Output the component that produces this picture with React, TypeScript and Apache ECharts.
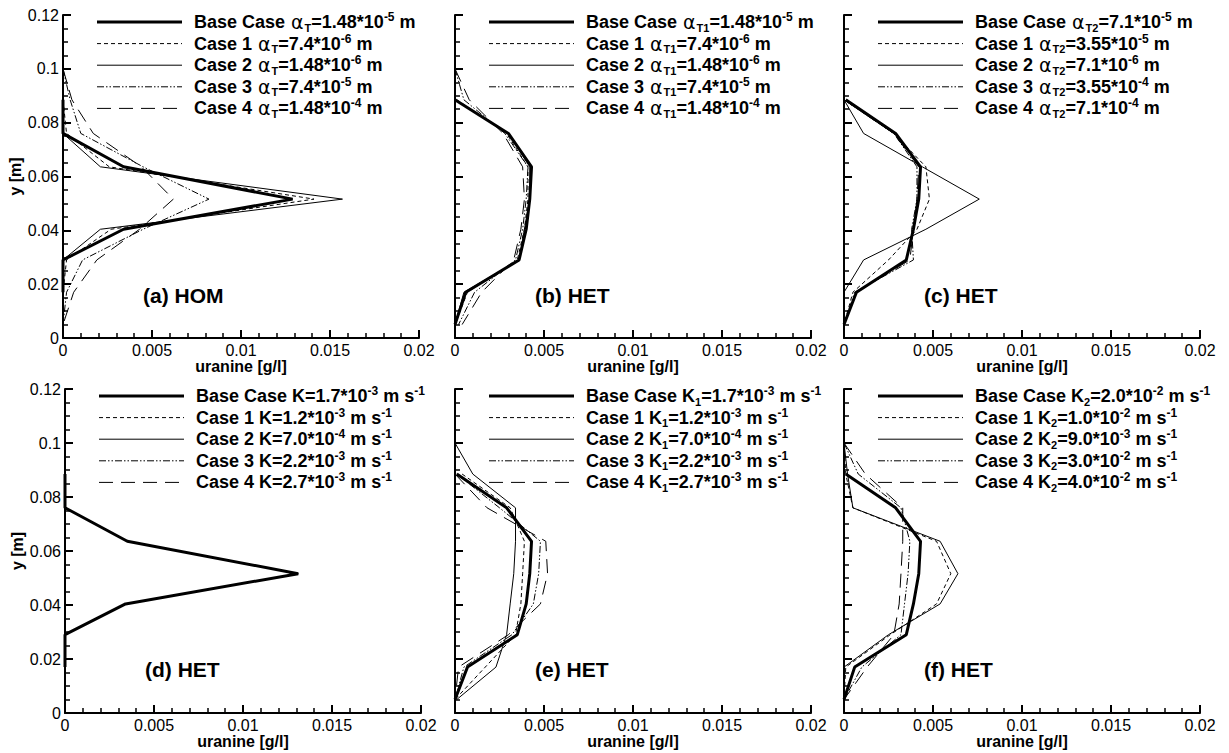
import React, { useEffect, useRef } from "react";
import * as echarts from "echarts";

// y positions (m) of the model nodes
const Y_NODES = [0.1, 0.0885, 0.076, 0.0636, 0.0516, 0.0404, 0.029, 0.017, 0.005];

// uranine concentrations (g/l) per panel; order: Base, Case 1..4
const A_BASE = [null, 0, 0, 0.0034, 0.0129, 0.0034, 0, 0, null];
const A_CASE1 = [null, 0, 0.0002, 0.0026, 0.0141, 0.0027, 0.0002, 0, null];
const A_CASE2 = [null, null, 0, 0.0021, 0.0157, 0.0021, 0, null, null];
const A_CASE3 = [0, 0.0004, 0.001, 0.0045, 0.0082, 0.0045, 0.0011, 0.0002, 0];
const A_CASE4 = [0, 0.0005, 0.0017, 0.0044, 0.0062, 0.0043, 0.0019, 0.0006, 0];

const B_BASE = [null, 0, 0.003, 0.0043, 0.0042, 0.004, 0.0036, 0.0006, 0];
const B_CASE1 = [null, 0.0001, 0.0029, 0.0041, 0.0041, 0.0039, 0.0035, 0.0007, 0];
const B_CASE2 = [null, 0, 0.003, 0.0042, 0.0042, 0.0039, 0.0036, 0.0005, 0];
const B_CASE3 = [0, 0.0005, 0.0028, 0.0041, 0.004, 0.0038, 0.0034, 0.0011, 0.0002];
const B_CASE4 = [0, 0.0008, 0.0027, 0.0038, 0.0039, 0.0037, 0.0033, 0.0015, 0.0004];

const C_BASE = [null, 0.0001, 0.0029, 0.0043, 0.0042, 0.0039, 0.0035, 0.0007, 0];
const C_CASE1 = [null, 0, 0.0028, 0.0046, 0.0048, 0.0041, 0.0025, 0.0005, 0];
const C_CASE2 = [0, 0, 0.0011, 0.0044, 0.0076, 0.0046, 0.0011, 0, 0];
const C_CASE3 = [null, 0, 0.0028, 0.0041, 0.0041, 0.0038, 0.0039, 0.0006, 0];
const C_CASE4 = [null, 0, 0.0028, 0.0042, 0.0041, 0.0039, 0.0037, 0.0007, 0];

const D_BASE = [null, 0, 0, 0.0035, 0.0131, 0.0034, 0, 0, null];
const D_CASE1 = [null, 0, 0, 0.0035, 0.0131, 0.0034, 0, 0, null];
const D_CASE2 = [null, 0, 0, 0.0035, 0.0131, 0.0034, 0, 0, null];
const D_CASE3 = [null, 0, 0, 0.0035, 0.0131, 0.0034, 0, 0, null];
const D_CASE4 = [null, 0, 0, 0.0035, 0.0131, 0.0034, 0, 0, null];

const E_BASE = [null, 0.0001, 0.0029, 0.0043, 0.0042, 0.004, 0.0035, 0.0007, 0];
const E_CASE1 = [null, 0.0004, 0.0031, 0.0039, 0.0038, 0.0037, 0.0034, 0.0017, 0];
const E_CASE2 = [0, 0.001, 0.0034, 0.0034, 0.0033, 0.0031, 0.0029, 0.0023, 0.0001];
const E_CASE3 = [null, 0.0001, 0.0025, 0.0048, 0.0047, 0.0044, 0.0032, 0.0005, 0];
const E_CASE4 = [null, 0, 0.0018, 0.0051, 0.0052, 0.0048, 0.003, 0.0002, 0];

const F_BASE = [null, 0.0001, 0.0029, 0.0043, 0.0042, 0.0039, 0.0035, 0.0006, 0];
const F_CASE1 = [0, 0.0001, 0.0005, 0.0052, 0.006, 0.0052, 0.0026, 0.0001, 0];
const F_CASE2 = [0, 0.0002, 0.0005, 0.0054, 0.0064, 0.0054, 0.0025, 0, 0];
const F_CASE3 = [0, 0.0008, 0.0032, 0.0037, 0.0036, 0.0034, 0.0032, 0.001, 0];
const F_CASE4 = [0, 0.0012, 0.0033, 0.0033, 0.0032, 0.0031, 0.0028, 0.0013, 0];

const CASE_NAMES = ["Base Case", "Case 1", "Case 2", "Case 3", "Case 4"];
const PANEL_LABELS = ["(a) HOM", "(b) HET", "(c) HET", "(d) HET", "(e) HET", "(f) HET"];

const A_MANT = ["1.48", "7.4", "1.48", "7.4", "1.48"];
const A_EXP = ["-5", "-6", "-6", "-5", "-4"];
const C_MANT = ["7.1", "3.55", "7.1", "3.55", "7.1"];
const C_EXP = ["-5", "-5", "-6", "-4", "-4"];
const D_MANT = ["1.7", "1.2", "7.0", "2.2", "2.7"];
const D_EXP = ["-3", "-3", "-4", "-3", "-3"];
const F_MANT = ["2.0", "1.0", "9.0", "3.0", "4.0"];
const F_EXP = ["-2", "-2", "-3", "-2", "-2"];

const X_TICKS = { min: 0, max: 0.02, interval: 0.005 };
const Y_TICKS = { min: 0, max: 0.12, interval: 0.02 };

const FONT = "'Liberation Sans', Arial, Helvetica, sans-serif";

const PANELS = [
  { data: [A_BASE, A_CASE1, A_CASE2, A_CASE3, A_CASE4], sym: "alpha", sub: "T", mant: A_MANT, exp: A_EXP, unit: "m" },
  { data: [B_BASE, B_CASE1, B_CASE2, B_CASE3, B_CASE4], sym: "alpha", sub: "T1", mant: A_MANT, exp: A_EXP, unit: "m" },
  { data: [C_BASE, C_CASE1, C_CASE2, C_CASE3, C_CASE4], sym: "alpha", sub: "T2", mant: C_MANT, exp: C_EXP, unit: "m" },
  { data: [D_BASE, D_CASE1, D_CASE2, D_CASE3, D_CASE4], sym: "K", sub: "", mant: D_MANT, exp: D_EXP, unit: "ms" },
  { data: [E_BASE, E_CASE1, E_CASE2, E_CASE3, E_CASE4], sym: "K", sub: "1", mant: D_MANT, exp: D_EXP, unit: "ms" },
  { data: [F_BASE, F_CASE1, F_CASE2, F_CASE3, F_CASE4], sym: "K", sub: "2", mant: F_MANT, exp: F_EXP, unit: "ms" },
];

const GRIDS = [
  { left: 63, top: 15, width: 356, height: 323 },
  { left: 455, top: 15, width: 356, height: 323 },
  { left: 844, top: 15, width: 356, height: 323 },
  { left: 65, top: 389, width: 356, height: 324 },
  { left: 455, top: 389, width: 356, height: 324 },
  { left: 844, top: 389, width: 356, height: 324 },
];

const LINE_STYLES: any[] = [
  { width: 3, type: "solid" },
  { width: 1, type: [4, 3] },
  { width: 1, type: "solid" },
  { width: 1, type: [7, 2, 1.5, 2, 1.5, 2] },
  { width: 1, type: [14, 8] },
];

function legendText(caseName: string, p: any, i: number) {
  let s = `{n|${caseName} }`;
  if (p.sym === "alpha") s += `{g|\u03b1}`;
  else s += `{n|K}`;
  if (p.sub) s += `{sub|${p.sub}}`;
  s += `{n|=${p.mant[i]}*10}{sup|${p.exp[i]}}`;
  if (p.unit === "m") s += `{n| m}`;
  else s += `{n| m s}{sup|-1}`;
  return s;
}

const RICH = {
  n: { fontSize: 18, fontWeight: "bold", fontFamily: FONT, fill: "#000", lineHeight: 22 },
  g: { fontSize: 19, fontWeight: "normal", fontFamily: "'DejaVu Sans', sans-serif", fill: "#000", lineHeight: 22, padding: [0, 1, 0, 1] },
  sub: { fontSize: 11, fontWeight: "bold", fontFamily: FONT, fill: "#000", lineHeight: 11, verticalAlign: "bottom" },
  sup: { fontSize: 12, fontWeight: "bold", fontFamily: FONT, fill: "#000", lineHeight: 12, verticalAlign: "top" },
};

export default function App() {
  const ref = useRef<HTMLDivElement>(null);
  useEffect(() => {
    if (!ref.current) return;
    const chart = echarts.init(ref.current, undefined, { renderer: "svg" });

    const xAxis: any[] = [];
    const yAxis: any[] = [];
    const series: any[] = [];
    const graphic: any[] = [];

    GRIDS.forEach((g, k) => {
      const showY = k === 0 || k === 3;
      xAxis.push({
        type: "value",
        gridIndex: k,
        min: X_TICKS.min,
        max: X_TICKS.max,
        interval: X_TICKS.interval,
        axisLine: { show: true, onZero: false, lineStyle: { color: "#000", width: 2 } },
        axisTick: { show: true, inside: true, length: 8, lineStyle: { color: "#000", width: 2 } },
        minorTick: { show: true, splitNumber: 5, length: 5, lineStyle: { color: "#000", width: 1.5 } },
        splitLine: { show: false },
        axisLabel: { color: "#000", fontSize: 16, fontFamily: FONT, margin: 4 },
        name: "uranine [g/l]",
        nameLocation: "middle",
        nameGap: 15,
        nameTextStyle: { color: "#000", fontSize: 16, fontWeight: "bold", fontFamily: FONT },
      });
      yAxis.push({
        type: "value",
        gridIndex: k,
        min: Y_TICKS.min,
        max: Y_TICKS.max,
        interval: Y_TICKS.interval,
        axisLine: { show: true, onZero: false, lineStyle: { color: "#000", width: 2 } },
        axisTick: { show: true, inside: true, length: 8, lineStyle: { color: "#000", width: 2 } },
        minorTick: { show: true, splitNumber: 4, length: 5, lineStyle: { color: "#000", width: 1.5 } },
        splitLine: { show: false },
        axisLabel: { show: showY, color: "#000", fontSize: 16, fontFamily: FONT, margin: 4 },
        name: showY ? "y [m]" : "",
        nameLocation: "middle",
        nameGap: 38,
        nameRotate: 90,
        nameTextStyle: { color: "#000", fontSize: 16, fontWeight: "bold", fontFamily: FONT },
      });

      const p = PANELS[k];
      [1, 2, 3, 4, 0].forEach((ci) => {
        const xs = p.data[ci];
        const pts: number[][] = [];
        xs.forEach((x: number | null, j: number) => {
          if (x !== null) pts.push([x, Y_NODES[j]]);
        });
        series.push({
          type: "line",
          name: CASE_NAMES[ci],
          xAxisIndex: k,
          yAxisIndex: k,
          data: pts,
          symbol: "none",
          showSymbol: false,
          z: ci === 0 ? 4 : 3,
          lineStyle: { color: "#000", width: LINE_STYLES[ci].width, type: LINE_STYLES[ci].type },
        });
      });

      const children: any[] = [];
      CASE_NAMES.forEach((cn, i) => {
        const y = g.top + 7 + 21.6 * i;
        const ls = LINE_STYLES[i];
        children.push({
          type: "line",
          shape: { x1: g.left + 34, y1: y, x2: g.left + 119, y2: y },
          style: {
            stroke: "#000",
            lineWidth: ls.width,
            lineDash: Array.isArray(ls.type) ? ls.type : null,
          },
        });
        children.push({
          type: "text",
          x: g.left + 131,
          y: y,
          style: {
            text: legendText(cn, p, i),
            rich: RICH,
            verticalAlign: "middle",
            align: "left",
            fill: "#000",
          },
        });
      });
      children.push({
        type: "text",
        x: g.left + 80,
        y: g.top + 280,
        style: {
          text: PANEL_LABELS[k],
          font: `bold 21px ${FONT}`,
          fill: "#000",
          verticalAlign: "middle",
          align: "left",
        },
      });
      graphic.push({ type: "group", children });
    });

    chart.setOption({
      animation: false,
      backgroundColor: "#fff",
      grid: GRIDS.map((g) => ({ ...g, containLabel: false })),
      xAxis,
      yAxis,
      series,
      graphic,
    });
    return () => chart.dispose();
  }, []);
  return (
    <div
      ref={ref}
      style={{ position: "absolute", left: 0, top: 0, width: 1229, height: 753, background: "#fff" }}
    />
  );
}
